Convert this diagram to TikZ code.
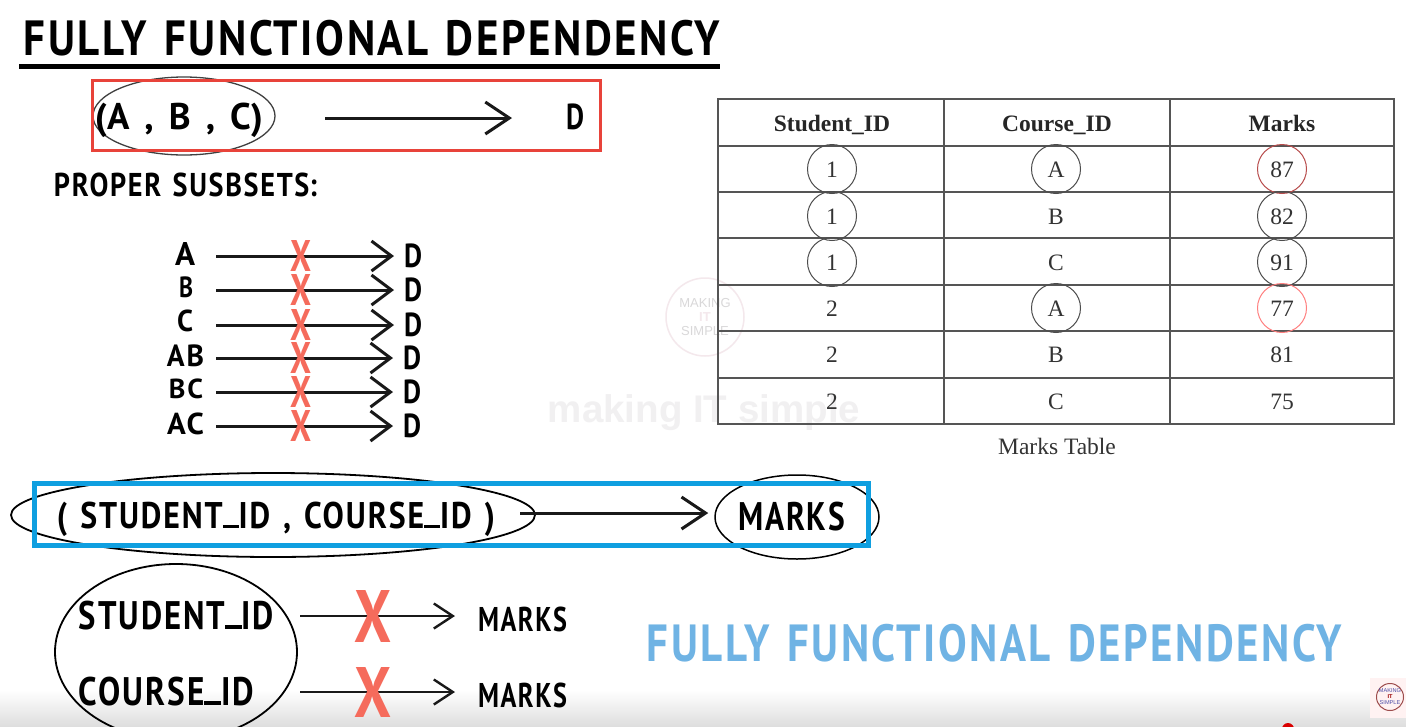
\documentclass[tikz,border=0pt]{standalone}
\usepackage{fontspec}
\usepackage{graphicx}
\setmainfont{Liberation Serif}
\newfontfamily\hand[LetterSpace=6,WordSpace=1.3]{PT Sans}
\newfontfamily\wmfont{Liberation Sans}
\usetikzlibrary{arrows.meta,shapes.geometric}
\definecolor{redbox}{HTML}{E8433A}
\definecolor{bluebox}{HTML}{0F9FE0}
\definecolor{crossred}{HTML}{F56B5C}
\definecolor{skyblue}{HTML}{6FB3E4}
\definecolor{tabline}{HTML}{555555}
\definecolor{celltext}{HTML}{333333}
\definecolor{wmgray}{HTML}{F1F0F1}
\definecolor{wmpink}{HTML}{F4E8EC}
\newcommand{\fitw}[3]{\resizebox*{#1pt}{#2pt}{\hand\bfseries #3}}
\newcommand{\usc}{\rule[0.02em]{0.5em}{0.09em}}
\newcommand{\lpar}{\smash{(}}
\newcommand{\rpar}{\smash{)}}
\newcommand{\cma}{\smash{,}}
\tikzset{
  hw/.style={inner sep=0pt,outer sep=0pt,text=black},
  cell/.style={inner sep=0pt,outer sep=0pt,text=celltext,font=\fontsize{23.5}{24}\selectfont},
  headcell/.style={inner sep=0pt,outer sep=0pt,anchor=base,text=black!85,font=\fontsize{23.5}{24}\selectfont\bfseries},
  arrowsmall/.style={line width=3pt,black!90,-{Straight Barb[length=20pt,width=30pt,line width=3pt]}},
  arrowbig/.style={line width=3pt,black!90,-{Straight Barb[length=24pt,width=32pt,line width=3pt]}},
  arrowthin/.style={line width=2.6pt,black!90,-{Straight Barb[length=19pt,width=25pt,line width=2.4pt]}},
  tabrule/.style={line width=1.3pt,tabline},
  markblack/.style={draw=black!70,line width=1pt},
  markred/.style={draw=red!60!black!70,line width=1pt},
  markpale/.style={draw=red!50!white,line width=1pt},
  handring/.style={draw=black,line width=1.8pt},
}
\begin{document}
\begin{tikzpicture}[x=1pt,y=-1pt]
\useasboundingbox (0,0) rectangle (1406,726);
\clip (0,0) rectangle (1406,726);
\fill[white] (0,0) rectangle (1406,726);
\shade[top color=white,bottom color=black!13] (0,690) rectangle (1406,726);

% watermark
\node[draw=wmpink,line width=1.5pt,circle,minimum size=78pt,inner sep=0pt] (wmring) at (705,317) {};
\node[text=wmgray!90!black,font=\wmfont\fontsize{13}{13}\selectfont,align=center,inner sep=0pt] (wmtext) at (705,317) {MAKING\\[1pt]{\bfseries\color{wmpink} IT}\\[1pt]SIMPLE};
\node[text=wmgray,font=\wmfont\bfseries\fontsize{38.5}{38.5}\selectfont,inner sep=0pt] (wmname) at (704,413) {making IT simple};

% title
\node[hw] (title) at (372,38) {\fitw{696}{36}{FULLY FUNCTIONAL DEPENDENCY}};
\coordinate (ulL) at (19,66);
\coordinate (ulR) at (720,66);
\draw[line width=5pt,black] (ulL) -- (ulR);

% (A,B,C) -> D
\node[draw=black!75,line width=1.3pt,ellipse,minimum width=182pt,minimum height=78pt,inner sep=0pt] (abcring) at (184,116) {};
\node[hw] (abc) at (179,117) {\fitw{168}{27}{\lpar A \cma\ B \cma\ C\rpar}};
\node[hw] (dtop) at (575,117) {\fitw{18}{26}{D}};
\coordinate (topS) at (325,118);
\draw[arrowbig,shorten >=54pt] (topS) -- (topS -| dtop.west);
\draw[redbox,line width=3pt] (92,80) rectangle (600,150);
\node[hw] (proper) at (185.5,185) {\fitw{263}{24}{PROPER SUSBSETS\smash{:}}};

% subsets
\foreach \i/\lab/\lx/\lw/\ly/\lh/\ay/\dx in {
  1/A/185/20/254/23/256/413,
  2/B/186/14/287/21/290/413,
  3/C/185/16/321/22/325/413,
  4/AB/185.5/37/356/22/358/412,
  5/BC/186/34/389/20/392/412,
  6/AC/185.5/37/424/22/426/412}{
  \node[hw] (lab\i) at (\lx,\ly) {\fitw{\lw}{\lh}{\lab}};
  \node[hw] (dr\i) at (\dx,\ay) {\fitw{18}{24}{D}};
  \coordinate (rs\i) at (216,\ay);
  \draw[arrowsmall,shorten >=10pt] (rs\i) -- (rs\i -| dr\i.west);
  \node[hw,text=crossred] (xr\i) at (301,\ay) {\fitw{21}{31}{X}};
}

% main FD
\draw[handring] (273,515) ellipse (262 and 42);
\node[draw=black,line width=1.5pt,ellipse,minimum width=164pt,minimum height=84pt,inner sep=0pt] (marksring) at (797,517) {};
\node[hw] (keypair) at (276,516) {\fitw{438}{27}{\lpar\ STUDENT\usc ID \cma\ COURSE\usc ID\ \rpar}};
\node[hw] (marksmain) at (791.5,516.5) {\fitw{107}{29}{MARKS}};
\coordinate (mainS) at (520,513);
\draw[arrowbig,line width=3pt,shorten >=6pt] (mainS) -- (mainS -| marksring.west);
\draw[bluebox,line width=5pt] (34,483) rectangle (868,545);

% lower circle
\draw[handring] (176,652) ellipse (121 and 88);
\node[hw] (sid) at (176.5,615.5) {\fitw{195}{29}{STUDENT\usc ID}};
\node[hw] (cid) at (166.5,691.5) {\fitw{175}{29}{COURSE\usc ID}};
\node[hw] (m1) at (522.5,619.5) {\fitw{89}{25}{MARKS}};
\node[hw] (m2) at (522.5,695.5) {\fitw{89}{25}{MARKS}};
\coordinate (s1) at (300,616);
\coordinate (s2) at (300,692);
\draw[arrowthin,shorten >=23pt] (s1) -- (s1 -| m1.west);
\draw[arrowthin,shorten >=23pt] (s2) -- (s2 -| m2.west);
\node[hw,text=crossred] (x1) at (373.5,616) {\fitw{37}{52}{X}};
\node[hw,text=crossred] (x2) at (373.5,692) {\fitw{37}{50}{X}};

% blue label
\node[hw,text=skyblue] (bluetitle) at (994.5,643) {\fitw{695}{38}{FULLY FUNCTIONAL DEPENDENCY}};

% table
\draw[tabrule] (718,99) rectangle (1394,424);
\foreach \yy in {146,192,238,285,331,378} \draw[tabrule] (718,\yy) -- (1394,\yy);
\foreach \xx in {944,1170} \draw[tabrule] (\xx,99) -- (\xx,424);
\node[headcell] (h1) at (832,131) {Student\_ID};
\node[headcell] (h2) at (1057,131) {Course\_ID};
\node[headcell] (h3) at (1282,131) {Marks};
\foreach \n/\yy/\a/\b/\c in {1/170/1/A/87,2/217/1/B/82,3/263/1/C/91,4/309/2/A/77,5/355/2/B/81,6/402/2/C/75}{
  \node[cell] (ca\n) at (832,\yy) {\a};
  \node[cell] (cb\n) at (1056,\yy) {\b};
  \node[cell] (cc\n) at (1282,\yy) {\c};
}
\node[cell] (caption) at (1057,446) {Marks Table};
\foreach \nm/\cx/\cy/\sty in {r1/832/169/markblack,r2/832/216/markblack,r3/832/262/markblack,
  r4/1056/169/markblack,r5/1056/308/markblack,
  r6/1282/169/markred,r7/1282/216/markblack,r8/1282/262/markblack,r9/1282/308/markpale}{
  \node[\sty,circle,minimum size=49pt,inner sep=0pt] (\nm) at (\cx,\cy) {};
}

% logo and dot
\fill[red!5] (1370,678) rectangle (1406,718);
\node[draw=red!45!black!70,line width=1pt,circle,minimum size=27pt,inner sep=0pt] (logoring) at (1390,697) {};
\node[text=blue!50!black!70,font=\wmfont\fontsize{5.6}{6}\selectfont,align=center,inner sep=0pt] (logotext) at (1390,697) {MAKING\\{\bfseries\color{red!60!black} IT}\\SIMPLE};
\fill[red!85!black] (1288,729) circle (6);
\end{tikzpicture}
\end{document}
